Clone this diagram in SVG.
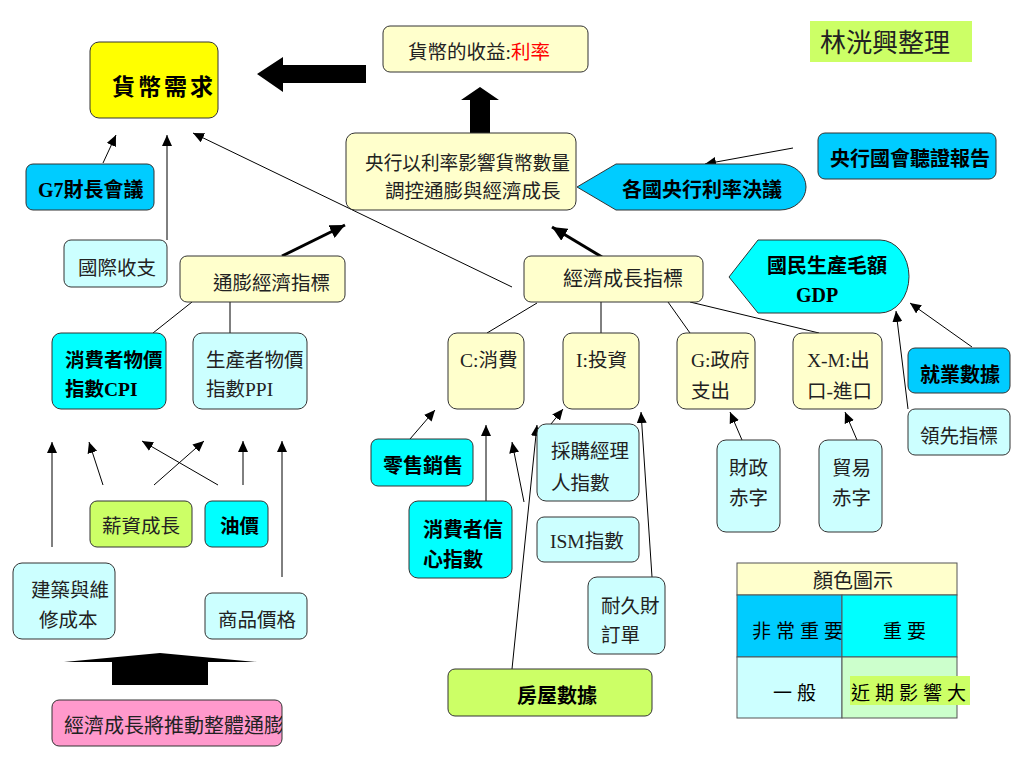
<svg xmlns="http://www.w3.org/2000/svg" width="1024" height="768" viewBox="0 0 1024 768">
<style>
.t{font-family:"Liberation Serif","Noto Sans CJK TC",serif;font-size:19.5px;fill:#222}
.b{font-weight:bold;fill:#000;font-size:20px}
.box{stroke:#333;stroke-width:1}
.ly{fill:#FFFFCC}
.lc{fill:#CCFFFF}
.cy{fill:#00FFFF}
.sk{fill:#00CCFF}
.gr{fill:#CCFF66}
.ln{stroke:#000;stroke-width:1;fill:none}
.ar{marker-end:url(#a)}
.th{stroke:#000;stroke-width:3;fill:none;marker-end:url(#A)}
.lg{font-family:"Noto Sans CJK TC",sans-serif;font-size:19px;fill:#000;letter-spacing:5px}
</style>
<defs>
<marker id="a" markerUnits="userSpaceOnUse" markerWidth="12" markerHeight="10" refX="11" refY="5" orient="auto"><path d="M0,0 L11,5 L0,10 z" fill="#000"/></marker>
<marker id="A" markerUnits="userSpaceOnUse" markerWidth="16" markerHeight="14" refX="15" refY="7" orient="auto"><path d="M0,0 L15,7 L0,14 z" fill="#000"/></marker>
<clipPath id="cp"><rect x="52" y="700" width="230" height="46" rx="7"/></clipPath>
</defs>
<rect width="1024" height="768" fill="#fff"/>

<g id="connectors">
<line class="ln ar" x1="103" y1="163" x2="116" y2="135"/>
<line class="ln ar" x1="167" y1="240" x2="167" y2="135"/>
<line class="ln ar" x1="512" y1="287" x2="193" y2="133"/>
<line class="ln ar" x1="793" y1="148" x2="705" y2="164"/>
<line class="ln ar" x1="972" y1="347" x2="910" y2="303"/>
<line class="ln ar" x1="908" y1="409" x2="896" y2="311"/>
<line class="ln ar" x1="52" y1="547" x2="52" y2="442"/>
<line class="ln ar" x1="103" y1="485" x2="89" y2="442"/>
<line class="ln ar" x1="218" y1="485" x2="142" y2="441"/>
<line class="ln ar" x1="154" y1="485" x2="204" y2="441"/>
<line class="ln ar" x1="243" y1="485" x2="243" y2="441"/>
<line class="ln ar" x1="282" y1="577" x2="282" y2="441"/>
<line class="ln ar" x1="410" y1="439" x2="435" y2="410"/>
<line class="ln ar" x1="486" y1="502" x2="486" y2="425"/>
<line class="ln ar" x1="524" y1="502" x2="512" y2="442"/>
<line class="ln ar" x1="551" y1="424" x2="563" y2="409"/>
<line class="ln ar" x1="652" y1="577" x2="641" y2="412"/>
<line class="ln ar" x1="512" y1="669" x2="537" y2="425"/>
<line class="ln ar" x1="742" y1="440" x2="730" y2="412"/>
<line class="ln ar" x1="857" y1="440" x2="845" y2="412"/>
<line class="th" x1="282" y1="256" x2="345" y2="225"/>
<line class="th" x1="602" y1="257" x2="552" y2="227"/>
<line class="ln" x1="192" y1="302" x2="153" y2="333"/>
<line class="ln" x1="230" y1="302" x2="230" y2="333"/>
<line class="ln" x1="537" y1="303" x2="487" y2="333"/>
<line class="ln" x1="601" y1="302" x2="601" y2="333"/>
<line class="ln" x1="668" y1="302" x2="690" y2="333"/>
<line class="ln" x1="690" y1="302" x2="819" y2="333"/>
<path d="M257,74 L283,57 L283,65 L366,65 L366,83 L283,83 L283,92 Z" fill="#000"/>
<path d="M480,87 L499,100 L490,100 L490,133 L470,133 L470,100 L461,100 Z" fill="#000"/>
<path d="M160,653 L257,662 L208,662 L208,685 L112,685 L112,662 L64,662 Z" fill="#000"/>
</g>

<g id="n-demand"><rect class="box" x="90" y="42" width="128" height="76" rx="9" fill="#FFFF00"/><text class="t b" x="112" y="95" style="font-size:23px;letter-spacing:3px">貨幣需求</text></g>
<g id="n-yield"><rect class="box ly" x="383" y="26" width="205" height="46" rx="7"/><text class="t" x="408" y="59">貨幣的收益:<tspan fill="#FF0000">利率</tspan></text></g>
<g id="n-sign"><rect x="810" y="21" width="162" height="41" class="gr"/><text class="t" x="820" y="52" style="font-size:26px">林洸興整理</text></g>
<g id="n-central"><rect class="box ly" x="346" y="133" width="230" height="77" rx="9"/><text class="t" x="365" y="170" textLength="205" lengthAdjust="spacingAndGlyphs">央行以利率影響貨幣數量</text><text class="t" x="385" y="198">調控通膨與經濟成長</text></g>
<g id="n-decision"><path class="box sk" d="M577,187 L616,164 H780 A26,23 0 0 1 780,210 H616 Z"/><text class="t b" x="622" y="197">各國央行利率決議</text></g>
<g id="n-hearing"><rect class="box sk" x="818" y="133" width="178" height="46" rx="7"/><text class="t b" x="830" y="166">央行國會聽證報告</text></g>
<g id="n-gdp"><path class="box cy" d="M729,277 L758,240 H880 A29,36.5 0 0 1 880,313 H758 Z"/><text class="t b" x="767" y="273">國民生產毛額</text><text class="t b" x="817" y="302" text-anchor="middle">GDP</text></g>
<g id="n-growth"><rect class="box ly" x="524" y="256" width="179" height="46" rx="7"/><text class="t" x="563" y="286" style="font-size:20px">經濟成長指標</text></g>
<g id="n-infl"><rect class="box ly" x="180" y="256" width="165" height="46" rx="7"/><text class="t" x="213" y="290">通膨經濟指標</text></g>
<g id="n-g7"><rect class="box sk" x="26" y="164" width="128" height="46" rx="7"/><text class="t b" x="38" y="197">G7財長會議</text></g>
<g id="n-bop"><rect class="box lc" x="64" y="240" width="103" height="47" rx="7"/><text class="t" x="78" y="275">國際收支</text></g>
<g id="n-cpi"><rect class="box cy" x="52" y="333" width="114" height="76" rx="9"/><text class="t b" x="65" y="367" style="font-size:19.5px">消費者物價</text><text class="t b" x="65" y="396" style="font-size:19.5px">指數CPI</text></g>
<g id="n-ppi"><rect class="box lc" x="193" y="333" width="114" height="76" rx="9"/><text class="t" x="206" y="367">生產者物價</text><text class="t" x="206" y="396">指數PPI</text></g>
<g id="n-wage"><rect class="box gr" x="90" y="501" width="102" height="46" rx="7"/><text class="t" x="102" y="533">薪資成長</text></g>
<g id="n-oil"><rect class="box cy" x="205" y="501" width="63" height="46" rx="7"/><text class="t b" x="220" y="533" style="font-size:19.5px">油價</text></g>
<g id="n-construct"><rect class="box lc" x="13" y="563" width="102" height="76" rx="9"/><text class="t" x="31" y="597">建築與維</text><text class="t" x="39" y="627">修成本</text></g>
<g id="n-commodity"><rect class="box lc" x="205" y="593" width="102" height="46" rx="7"/><text class="t" x="218" y="627">商品價格</text></g>
<g id="n-pink"><rect class="box" x="52" y="700" width="230" height="46" rx="7" fill="#FF99CC"/><text class="t" x="64" y="733" style="font-size:20px" clip-path="url(#cp)">經濟成長將推動整體通膨</text></g>
<g id="n-c"><rect class="box ly" x="448" y="333" width="76" height="76" rx="9"/><text class="t" x="460" y="367">C:消費</text></g>
<g id="n-i"><rect class="box ly" x="563" y="333" width="76" height="76" rx="9"/><text class="t" x="576" y="367">I:投資</text></g>
<g id="n-g"><rect class="box ly" x="677" y="333" width="78" height="76" rx="9"/><text class="t" x="691" y="367">G:政府</text><text class="t" x="691" y="398">支出</text></g>
<g id="n-xm"><rect class="box ly" x="793" y="333" width="89" height="76" rx="9"/><text class="t" x="807" y="367">X-M:出</text><text class="t" x="807" y="398">口-進口</text></g>
<g id="n-retail"><rect class="box cy" x="371" y="439" width="102" height="47" rx="7"/><text class="t b" x="383" y="473">零售銷售</text></g>
<g id="n-conf"><rect class="box cy" x="409" y="501" width="103" height="77" rx="9"/><text class="t b" x="423" y="537">消費者信</text><text class="t b" x="423" y="567">心指數</text></g>
<g id="n-pmi"><rect class="box lc" x="537" y="424" width="102" height="77" rx="9"/><text class="t" x="551" y="458">採購經理</text><text class="t" x="551" y="490">人指數</text></g>
<g id="n-ism"><rect class="box lc" x="537" y="517" width="102" height="45" rx="7"/><text class="t" x="550" y="548">ISM指數</text></g>
<g id="n-durable"><rect class="box lc" x="588" y="577" width="77" height="77" rx="9"/><text class="t" x="601" y="613">耐久財</text><text class="t" x="601" y="642">訂單</text></g>
<g id="n-housing"><rect class="box gr" x="448" y="669" width="204" height="47" rx="7"/><text class="t b" x="517" y="703">房屋數據</text></g>
<g id="n-fiscal"><rect class="box lc" x="717" y="440" width="63" height="92" rx="9"/><text class="t" x="729" y="475">財政</text><text class="t" x="729" y="505">赤字</text></g>
<g id="n-trade"><rect class="box lc" x="819" y="440" width="63" height="92" rx="9"/><text class="t" x="832" y="475">貿易</text><text class="t" x="832" y="505">赤字</text></g>
<g id="n-jobs"><rect class="box sk" x="908" y="348" width="102" height="45" rx="7"/><text class="t b" x="920" y="382">就業數據</text></g>
<g id="n-leading"><rect class="box lc" x="908" y="409" width="102" height="46" rx="7"/><text class="t" x="920" y="443">領先指標</text></g>

<g id="legend" stroke="#555" stroke-width="1">
<rect x="737" y="563" width="220" height="32" fill="#FFFFCC"/>
<rect x="737" y="595" width="105" height="62" fill="#00CCFF"/>
<rect x="842" y="595" width="115" height="62" fill="#00FFFF"/>
<rect x="737" y="657" width="105" height="61" fill="#CCFFFF"/>
<rect x="842" y="657" width="115" height="61" fill="#CCFFCC"/>
<rect x="850" y="676" width="120" height="29" fill="#CCFF66" stroke="none"/>
<text class="t" x="813" y="588" stroke="none" style="font-size:20px">顏色圖示</text>
<text class="lg" x="752" y="638" stroke="none">非常重要</text>
<text class="lg" x="883" y="638" stroke="none">重要</text>
<text class="lg" x="773" y="700" stroke="none">一般</text>
<text class="lg" x="851" y="700" stroke="none">近期影響大</text>
</g>
</svg>
